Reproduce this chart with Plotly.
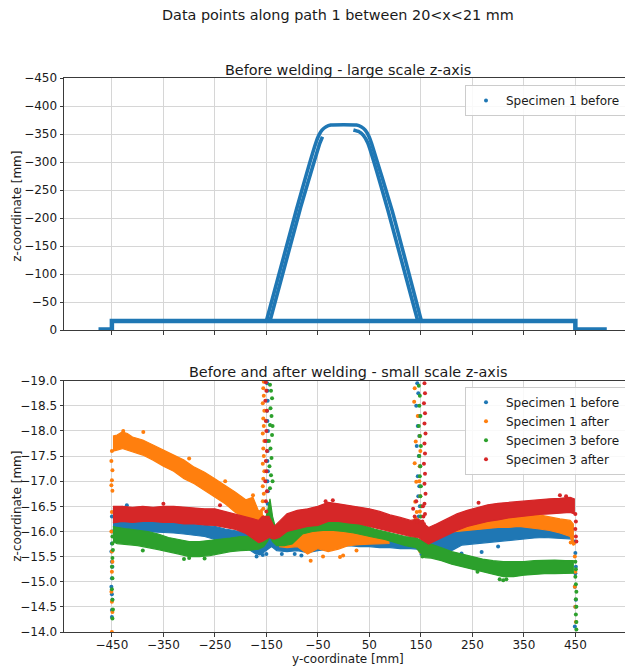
import plotly.graph_objects as go

# ---------------- colours / names ----------------
series_names = ["Specimen 1 before", "Specimen 1 after", "Specimen 3 before", "Specimen 3 after"]
series_colors = ["#1f77b4", "#ff7f0e", "#2ca02c", "#d62728"]

x_ticks = [-450, -350, -250, -150, -50, 50, 150, 250, 350, 450]
z_ticks_top = [0, -50, -100, -150, -200, -250, -300, -350, -400, -450]
z_ticks_bot = [-19.0, -18.5, -18.0, -17.5, -17.0, -16.5, -16.0, -15.5, -15.0, -14.5, -14.0]

# ---------------- top panel: specimen 1 before (large scale) ----------------
top_flat_y = [-476, -450, -450, 450, 450, 511]
top_flat_z = [-1, -1, -16, -16, -1, -1]

top_outer_y = [-150, -92, -54, -48, -42, -34, -25, 25, 34, 42, 49, 54, 94, 151]
top_outer_z = [-16, -214, -334, -348, -357, -363, -366, -366, -363, -357, -346, -334, -214, -16]

top_inner_left_y = [-143, -85, -46, -41]
top_inner_left_z = [-16, -214, -334, -345]

top_inner_right_y = [19, 30, 38, 47, 86, 144]
top_inner_right_z = [-357, -354, -348, -334, -214, -16]

# ---------------- bottom panel: bands (upper / lower envelope) ----------------
# Specimen 1 before
s1b_y = [-448, -430, -410, -390, -370, -350, -330, -310, -290, -270, -250, -230, -210, -190,
         -170, -160, -153, -140, -130, -110, -90, -70, -50, -30, -10, 10, 30, 50, 70, 90, 110,
         130, 143, 158, 170, 190, 210, 230, 250, 270, 290, 310, 330, 350, 370, 390, 410, 430, 445]
s1b_up = [-16.45, -16.5, -16.35, -16.3, -16.28, -16.3, -16.2, -16.18, -16.15, -16.12, -16.1, -16.05,
          -16.02, -15.98, -15.9, -15.92, -16.3, -15.95, -15.9, -15.88, -15.85, -15.85, -15.9, -15.95,
          -16.05, -16.1, -16.05, -16.0, -15.95, -15.9, -15.88, -15.85, -15.85, -15.8, -15.85, -15.95,
          -16.0, -16.03, -16.05, -16.08, -16.1, -16.12, -16.14, -16.16, -16.16, -16.15, -16.15, -16.14, -16.12]
s1b_lo = [-15.98, -15.98, -15.98, -16.0, -16.0, -15.98, -15.97, -15.95, -15.93, -15.9, -15.84, -15.8,
          -15.76, -15.68, -15.55, -15.55, -15.6, -15.7, -15.62, -15.6, -15.62, -15.58, -15.62, -15.65,
          -15.7, -15.72, -15.7, -15.7, -15.68, -15.68, -15.66, -15.66, -15.65, -15.5, -15.58, -15.65,
          -15.62, -15.73, -15.75, -15.78, -15.8, -15.82, -15.84, -15.85, -15.87, -15.88, -15.88, -15.86, -15.85]

# Specimen 1 after (None = gap)
s1a_y = [-448, -440, -430, -420, -410, -390, -370, -350, -330, -310, -290, -270, -250, -230, -210,
         -190, -176, -165, -158, None,
         -125, -110, -90, -70, -50, -30, -10, 10, 30, 50, 70, 88, None,
         180, 200, 220, 240, 260, 280, 300, 320, 340, 360, 380, 400, 420, 440, 446]
s1a_up = [-17.9, -17.92, -17.98, -17.95, -17.88, -17.82, -17.72, -17.62, -17.53, -17.42, -17.28, -17.18,
          -17.05, -16.92, -16.78, -16.63, -16.68, -16.4, -16.45, None,
          -15.95, -15.98, -16.02, -16.03, -16.05, -16.08, -16.08, -16.05, -16.03, -16.0, -15.98, -15.95, None,
          -16.1, -16.2, -16.25, -16.28, -16.32, -16.35, -16.35, -16.38, -16.4, -16.37, -16.33, -16.28,
          -16.25, -16.22, -16.15]
s1a_lo = [-17.6, -17.62, -17.65, -17.62, -17.58, -17.52, -17.42, -17.3, -17.2, -17.05, -16.95, -16.82,
          -16.68, -16.55, -16.38, -16.27, -16.16, -16.12, -16.1, None,
          -15.7, -15.68, -15.7, -15.55, -15.66, -15.6, -15.65, -15.72, -15.74, -15.75, -15.76, -15.76, None,
          -15.92, -15.98, -16.0, -16.02, -16.04, -16.06, -16.08, -16.08, -16.1, -16.07, -16.05, -16.02,
          -15.97, -15.9, -15.72]

# Specimen 3 before
s3b_y = [-448, -440, -420, -400, -380, -360, -340, -320, -300, -280, -260, -240, -220, -200, -180,
         -165, -155, -148, -143, -138, -130, -115, -100, -80, -60, -40, -20, 0, 20, 40, 60, 80, 100,
         120, 140, 158, 170, 190, 210, 230, 250, 270, 290, 310, 330, 350, 370, 390, 410, 430, 446]
s3b_up = [-16.1, -16.08, -16.05, -16.03, -16.0, -15.95, -15.88, -15.84, -15.8, -15.8, -15.82, -15.84,
          -15.87, -15.9, -15.9, -15.95, -16.1, -16.4, -16.65, -16.3, -15.98, -15.98, -16.05, -16.2,
          -16.25, -16.28, -16.28, -16.25, -16.2, -16.12, -16.05, -16.0, -15.95, -15.9, -15.88, -15.78,
          -15.75, -15.68, -15.6, -15.55, -15.5, -15.45, -15.42, -15.4, -15.4, -15.4, -15.42, -15.43,
          -15.43, -15.42, -15.42]
s3b_lo = [-15.8, -15.76, -15.74, -15.72, -15.68, -15.64, -15.6, -15.55, -15.5, -15.5, -15.52, -15.56,
          -15.6, -15.62, -15.63, -15.65, -15.7, -15.8, -15.9, -15.8, -15.72, -15.72, -15.75, -15.95,
          -16.0, -16.02, -16.02, -16.0, -15.97, -15.93, -15.88, -15.84, -15.78, -15.72, -15.68, -15.48,
          -15.47, -15.42, -15.35, -15.3, -15.26, -15.2, -15.15, -15.1, -15.1, -15.13, -15.15, -15.16,
          -15.16, -15.16, -15.17]

# Specimen 3 after
s3a_y = [-448, -430, -410, -390, -370, -350, -330, -310, -290, -270, -250, -230, -210, -190, -175,
         -165, -158, -145, -135, -125, -110, -90, -70, -50, -30, -10, 10, 30, 50, 70, 90, 110, 130,
         145, 165, 180, 200, 220, 240, 260, 280, 300, 320, 340, 360, 380, 400, 420, 440, 448]
s3a_up = [-16.5, -16.5, -16.48, -16.5, -16.48, -16.5, -16.5, -16.48, -16.47, -16.45, -16.45, -16.4,
          -16.35, -16.3, -16.25, -16.22, -16.3, -16.3, -16.1, -16.2, -16.35, -16.42, -16.45, -16.5,
          -16.58, -16.55, -16.52, -16.48, -16.45, -16.4, -16.33, -16.28, -16.22, -16.25, -16.08,
          -16.15, -16.25, -16.35, -16.42, -16.48, -16.53, -16.56, -16.58, -16.6, -16.62, -16.64,
          -16.65, -16.66, -16.68, -16.65]
s3a_lo = [-16.17, -16.2, -16.18, -16.2, -16.2, -16.18, -16.18, -16.15, -16.15, -16.13, -16.12, -16.08,
          -16.04, -15.96, -15.85, -15.78, -15.8, -15.88, -15.85, -15.88, -16.0, -16.05, -16.1, -16.12,
          -16.2, -16.2, -16.17, -16.15, -16.1, -16.05, -16.0, -15.95, -15.9, -15.88, -15.75, -15.82,
          -15.92, -16.02, -16.1, -16.15, -16.2, -16.23, -16.27, -16.3, -16.32, -16.34, -16.35, -16.36,
          -16.38, -16.35]

# ---------------- bottom panel: scattered points (edges, hat ramps, outliers) ----------------
s1b_pts_y = [-450, -449, -450, -451, -450, -449, -450, -451, -450, -449, -450, -450,
             -146, -146.5, -147, -146, -147.5, -147, -148, -147, -148, -147.5, -148.5, -147, -148, -148.5,
             -147.5, -148, -148.5,
             143, 145, 141, 146, 144, 147, 142, 146, 148, 144, 147, 145, 148, 146, 149, 150, 150, 151,
             449, 450, 451, 450, 449, 451, 450, 449,
             -421, -305, -169, -163, -157, -150, -82, -95, 229, 268, 300, 190, -120, 30, 60]
s1b_pts_z = [-16.3, -16.0, -15.76, -15.6, -15.4, -15.3, -15.07, -14.9, -14.75, -14.64, -14.44, -14.3,
             -15.75, -15.95, -16.15, -16.35, -16.55, -16.8, -17.0, -17.2, -17.4, -17.6, -17.8, -18.0, -18.2,
             -18.4, -18.6, -18.8, -18.95,
             -18.95, -18.75, -18.5, -18.3, -18.1, -17.9, -17.7, -17.5, -17.3, -17.1, -16.9, -16.7, -16.5,
             -16.3, -16.1, -15.9, -15.7, -15.55,
             -15.8, -15.57, -15.3, -15.17, -14.9, -14.64, -14.5, -14.11,
             -16.52, -16.22, -15.5, -15.56, -15.53, -15.55, -15.52, -15.55, -15.56, -15.59, -15.7, -15.58,
             -15.55, -16.18, -16.12]

s1a_pts_y = [-450, -451, -449, -450, -451, -449, -450, -451, -450, -449, -450, -451, -450, -449, -450,
             -158, -156, -157, -155, -157, -156, -154, -157, -155, -156, -154, -157, -155, -156, -154,
             -157, -155, -156, -155,
             137, 140, 138, 141, 139, 142, 140, 143, 148, 149, 148, 147, 149, 148, 149, 148, 149, 138, 144,
             447, 449, 450, 449, 450, 451,
             -428, -389, -176, -64, -7, -1, 25, -40, 441, -300, -230]
s1a_pts_z = [-17.6, -17.4, -17.22, -17.02, -16.92, -16.81, -16.39, -16.0, -15.6, -15.4, -15.2, -14.8,
             -14.6, -14.4, -14.0,
             -16.3, -16.45, -16.6, -16.75, -16.9, -17.05, -17.2, -17.35, -17.5, -17.65, -17.8, -17.95,
             -18.1, -18.25, -18.4, -18.55, -18.7, -18.85, -18.98,
             -18.58, -17.79, -17.36, -16.99, -16.59, -16.39, -16.26, -16.06, -17.9, -17.6, -17.3, -17.0,
             -16.7, -16.4, -16.1, -15.8, -15.6, -18.85, -18.3,
             -15.76, -15.5, -15.2, -14.9, -14.5, -14.2,
             -18.0, -17.98, -16.72, -15.42, -15.49, -15.52, -15.62, -15.5, -15.78, -17.45, -17.0]

s3b_pts_y = [-449, -449, -448, -449, -450, -449, -450, -449, -448, -449,
             -143, -141, -144, -140, -142, -139, -143, -140, -142, -139, -141, -143, -138, -145, -138,
             146, 148, 147, 149, 146, 148, 150, 147, 149, 148, 150, 149, 151, 150, 151, 152, 152, 153,
             450, 451, 450, 451, 452, 451, 452, 451, 452, 452,
             -310, -300, -270, 303, 310, 316, 260, -20, -390]
s3b_pts_z = [-15.9, -15.76, -15.63, -15.47, -15.3, -15.07, -14.85, -14.64, -14.45, -14.27,
             -16.86, -17.12, -17.3, -17.46, -17.65, -17.92, -18.12, -18.3, -18.45, -18.65, -18.8, -18.92,
             -17.0, -17.8, -18.1,
             -18.9, -18.7, -18.5, -18.3, -18.1, -17.9, -17.7, -17.5, -17.3, -17.1, -16.9, -16.7, -16.5,
             -16.3, -16.1, -15.9, -15.7, -15.5,
             -15.4, -15.25, -15.1, -14.95, -14.8, -14.65, -14.5, -14.35, -14.2, -14.05,
             -15.45, -15.47, -15.46, -15.05, -15.03, -15.05, -15.2, -16.35, -15.62]

s3a_pts_y = [-150, -151, -149, -152, -150, -151, -149, -152, -150, -151, -149, -152, -150, -151,
             157, 158, 156, 158, 157, 159, 157, 158, 156, 158, 157, 159, 157, 158, 156, 155, 154, 153,
             135, 138, 141, 143,
             450, 451, 450, 451, 452,
             -350, -240, -21, -35, 262, 420, 432]
s3a_pts_z = [-16.4, -16.6, -16.8, -17.0, -17.2, -17.4, -17.6, -17.8, -18.0, -18.2, -18.4, -18.6, -18.8, -18.97,
             -18.95, -18.75, -18.55, -18.35, -18.15, -17.95, -17.75, -17.55, -17.35, -17.15, -16.95,
             -16.75, -16.55, -16.35, -16.15, -16.3, -16.5, -16.2,
             -16.45, -16.3, -16.6, -16.2,
             -16.35, -16.2, -16.05, -15.9, -15.8,
             -16.55, -16.52, -16.62, -16.6, -16.57, -16.72, -16.7]

band_y = [s1b_y, s1a_y, s3b_y, s3a_y]
band_up = [s1b_up, s1a_up, s3b_up, s3a_up]
band_lo = [s1b_lo, s1a_lo, s3b_lo, s3a_lo]
pts_y = [s1b_pts_y, s1a_pts_y, s3b_pts_y, s3a_pts_y]
pts_z = [s1b_pts_z, s1a_pts_z, s3b_pts_z, s3a_pts_z]

FONT = "DejaVu Sans"
TXT = "#1a1a1a"


def minus(s):
    return s.replace("-", "\u2212")


x_ticktext = [minus(str(v)) for v in x_ticks]
top_ticktext = [minus(str(v)) for v in z_ticks_top]
bot_ticktext = [minus(f"{v:.1f}") for v in z_ticks_bot]


def band_polygon(xs, up, lo):
    px, pz = [], []
    sx, su, sl = [], [], []

    def flush():
        if sx:
            px.extend(sx + sx[::-1] + [None])
            pz.extend(su + sl[::-1] + [None])

    for x, u, l in zip(xs, up, lo):
        if x is None:
            flush()
            sx, su, sl = [], [], []
        else:
            sx.append(x)
            su.append(u)
            sl.append(l)
    flush()
    return px, pz


fig = go.Figure()

blue = series_colors[0]
# top panel traces
fig.add_trace(go.Scatter(x=top_flat_y, y=top_flat_z, mode="lines", line=dict(color=blue, width=4.5),
                         xaxis="x", yaxis="y", showlegend=False, hoverinfo="skip"))
for ty, tz in [(top_outer_y, top_outer_z), (top_inner_left_y, top_inner_left_z),
               (top_inner_right_y, top_inner_right_z)]:
    fig.add_trace(go.Scatter(x=ty, y=tz, mode="lines",
                             line=dict(color=blue, width=3.6, shape="spline", smoothing=0.4),
                             xaxis="x", yaxis="y", showlegend=False, hoverinfo="skip"))
fig.add_trace(go.Scatter(x=[None], y=[None], mode="markers", marker=dict(color=blue, size=4),
                         name=series_names[0], xaxis="x", yaxis="y", legend="legend", showlegend=True))

# bottom panel traces
for i in range(4):
    px, pz = band_polygon(band_y[i], band_up[i], band_lo[i])
    fig.add_trace(go.Scatter(x=px, y=pz, mode="lines", fill="toself", fillcolor=series_colors[i],
                             line=dict(color=series_colors[i], width=1.2),
                             xaxis="x2", yaxis="y2", showlegend=False, hoverinfo="skip"))
    fig.add_trace(go.Scatter(x=pts_y[i], y=pts_z[i], mode="markers",
                             marker=dict(color=series_colors[i], size=4),
                             name=series_names[i], xaxis="x2", yaxis="y2", legend="legend2",
                             showlegend=True))

axis_common = dict(showgrid=True, gridcolor="#d6d6d6", gridwidth=1, zeroline=False,
                   showline=True, mirror=True, linecolor="#3a3a3a", linewidth=1,
                   ticks="outside", ticklen=3.5, tickcolor="#3a3a3a",
                   tickfont=dict(family=FONT, size=12, color=TXT))

# page coordinates: the browser adds an 8px body margin, so figure is 8px smaller
top_dom = [(632 - 330) / 554, 1.0]
bot_dom = [0.0, (632 - 380.7) / 554]

fig.update_layout(
    width=625, height=660,
    margin=dict(l=56, r=1, t=70, b=36),
    paper_bgcolor="white", plot_bgcolor="white",
    font=dict(family=FONT, size=12, color=TXT),
    xaxis=dict(domain=[0, 1], anchor="y", range=[-543, 560], tickvals=x_ticks, ticktext=x_ticktext,
               showticklabels=False, **axis_common),
    yaxis=dict(domain=top_dom, anchor="x", range=[0, -450], tickvals=z_ticks_top,
               ticktext=top_ticktext, **axis_common),
    xaxis2=dict(domain=[0, 1], anchor="y2", range=[-543, 560], tickvals=x_ticks, ticktext=x_ticktext,
                matches="x", ticklabelstandoff=-2, **axis_common),
    yaxis2=dict(domain=bot_dom, anchor="x2", range=[-14, -19], tickvals=z_ticks_bot,
                ticktext=bot_ticktext, **axis_common),
    legend=dict(x=(626 - 64) / 568, xanchor="right", y=(632 - 85) / 554, yanchor="top",
                bgcolor="rgba(255,255,255,0.85)", bordercolor="#cccccc", borderwidth=1,
                font=dict(family=FONT, size=12, color=TXT)),
    legend2=dict(x=(626 - 64) / 568, xanchor="right", y=(632 - 386.7) / 554, yanchor="top",
                 bgcolor="rgba(255,255,255,0.85)", bordercolor="#cccccc", borderwidth=1,
                 font=dict(family=FONT, size=12, color=TXT), tracegroupgap=0),
    annotations=[
        dict(text="Data points along path 1 between 20<x<21 mm", x=(338 - 64) / 568, y=(632 - 15) / 554,
             xref="paper", yref="paper", showarrow=False, xanchor="center", yanchor="middle",
             font=dict(family=FONT, size=14.4, color=TXT)),
        dict(text="Before welding - large scale z-axis", x=0.5, y=(632 - 70) / 554,
             xref="paper", yref="paper", showarrow=False, xanchor="center", yanchor="middle",
             font=dict(family=FONT, size=14.4, color=TXT)),
        dict(text="Before and after welding - small scale z-axis", x=0.5, y=(632 - 371.5) / 554,
             xref="paper", yref="paper", showarrow=False, xanchor="center", yanchor="middle",
             font=dict(family=FONT, size=14.4, color=TXT)),
        dict(text="y-coordinate [mm]", x=0.5, y=(632 - 659) / 554,
             xref="paper", yref="paper", showarrow=False, xanchor="center", yanchor="middle",
             font=dict(family=FONT, size=12, color=TXT)),
        dict(text="z-coordinate [mm]", x=(17 - 64) / 568, y=(632 - 206.7) / 554, textangle=-90,
             xref="paper", yref="paper", showarrow=False, xanchor="center", yanchor="middle",
             font=dict(family=FONT, size=12, color=TXT)),
        dict(text="z-coordinate [mm]", x=(17 - 64) / 568, y=(632 - 506.7) / 554, textangle=-90,
             xref="paper", yref="paper", showarrow=False, xanchor="center", yanchor="middle",
             font=dict(family=FONT, size=12, color=TXT)),
    ],
)

fig.write_html("out.html")
